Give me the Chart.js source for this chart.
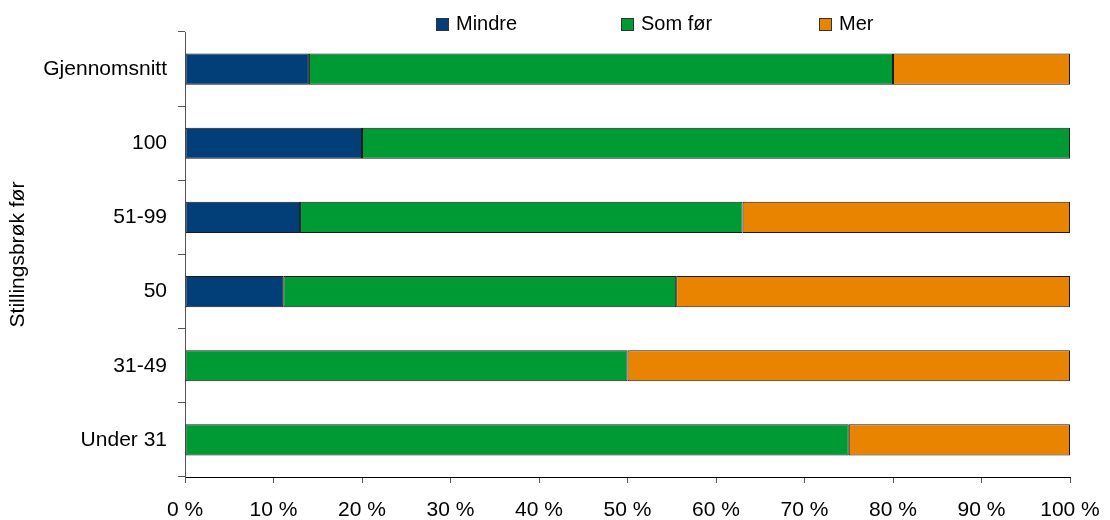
<!DOCTYPE html>
<html>
<head>
<meta charset="utf-8">
<script src="https://cdn.jsdelivr.net/npm/chart.js@4"></script>
<style>
  body { margin: 0; background: #fff; }
  #wrap { width: 1110px; height: 520px; }
</style>
</head>
<body>
<div id="wrap"><canvas id="chart" width="1110" height="520"></canvas></div>
<script>
const categories = ["Gjennomsnitt", "100", "51-99", "50", "31-49", "Under 31"];
const mindre = [14, 20, 13, 11.1, 0, 0];
const somFor = [66, 80, 50, 44.4, 50, 75];
const mer = [20, 0, 37, 44.5, 50, 25];
const xTicks = [0, 10, 20, 30, 40, 50, 60, 70, 80, 90, 100];

const fontFamily = "Liberation Sans, Arial, sans-serif";
const font = { family: fontFamily, size: 21 };

// legend drawn by hand, Excel style: items spaced wider than Chart.js allows
const legendX = [436, 621, 819];
const excelLegend = {
  id: "excelLegend",
  afterDraw(chart) {
    const c = chart.ctx;
    c.save();
    c.font = "20px " + fontFamily;
    c.textBaseline = "middle";
    chart.data.datasets.forEach((d, i) => {
      const x = legendX[i];
      c.fillStyle = d.backgroundColor;
      c.fillRect(x, 18, 12, 12);
      c.strokeStyle = "#333";
      c.lineWidth = 1;
      c.strokeRect(x + 0.5, 18.5, 12, 12);
      c.fillStyle = "#000";
      c.fillText(d.label, x + 20, 24);
    });
    c.restore();
  }
};

const ctx = document.getElementById("chart").getContext("2d");
new Chart(ctx, {
  type: "bar",
  data: {
    labels: categories,
    datasets: [
      { label: "Mindre", data: mindre, backgroundColor: "#023f78" },
      { label: "Som før", data: somFor, backgroundColor: "#009a35" },
      { label: "Mer", data: mer, backgroundColor: "#e88400" }
    ].map(d => Object.assign(d, {
      borderColor: "#1a1a1a",
      borderWidth: 1,
      borderSkipped: false,
      barPercentage: 0.42,
      categoryPercentage: 1
    }))
  },
  options: {
    indexAxis: "y",
    responsive: false,
    animation: false,
    layout: { padding: { left: 0, right: 40, top: 32, bottom: 0 } },
    plugins: {
      legend: { display: false },
      tooltip: { enabled: false }
    },
    scales: {
      x: {
        stacked: true,
        min: 0,
        max: 100,
        afterBuildTicks: (axis) => { axis.ticks = xTicks.map(v => ({ value: v })); },
        afterFit: (axis) => {
          axis.height = 43;
          axis.paddingLeft = 0;
          axis.paddingRight = 0;
        },
        ticks: {
          font: font,
          color: "#000",
          padding: 15,
          maxRotation: 0,
          callback: (v) => v + " %"
        },
        grid: { drawOnChartArea: false, tickLength: 6, color: "#555" },
        border: { color: "#000", width: 1 }
      },
      y: {
        stacked: true,
        afterFit: (axis) => { axis.width = 185; },
        title: { display: true, text: "Stillingsbrøk før", font: font, color: "#000", padding: { top: 6, bottom: 0 } },
        ticks: { font: font, color: "#000", padding: 11 },
        grid: { drawOnChartArea: false, offset: true, tickLength: 7, color: "#555" },
        border: { color: "#555", width: 1 }
      }
    }
  },
  plugins: [excelLegend]
});
</script>
</body>
</html>
